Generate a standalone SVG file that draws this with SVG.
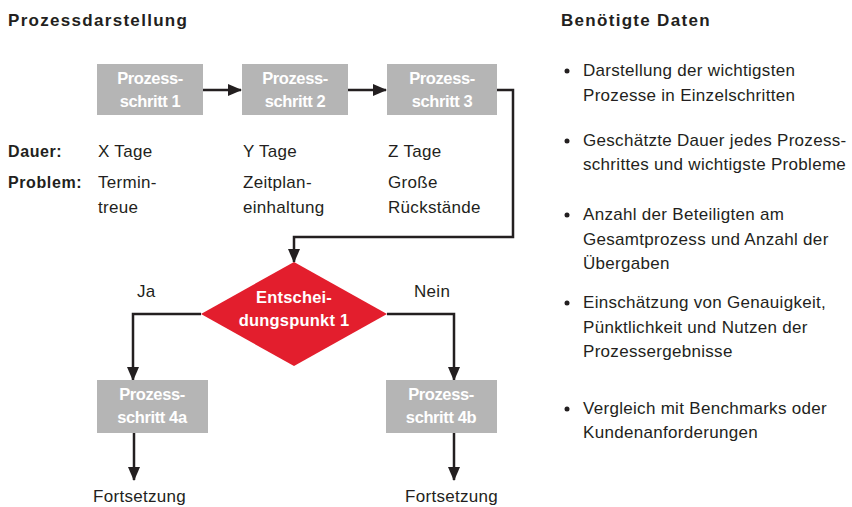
<svg xmlns="http://www.w3.org/2000/svg" width="852" height="507" viewBox="0 0 852 507">
<defs>
<style>
text{font-family:"Liberation Sans",Arial,sans-serif;font-size:17px;letter-spacing:0.3px;fill:#231f20}
.h{font-weight:bold;font-size:17px;letter-spacing:1.3px}
.b{font-weight:bold;font-size:16px;letter-spacing:0.6px}
.w{fill:#fff;font-weight:bold;font-size:16.5px;letter-spacing:-0.4px;text-anchor:middle}
.d{fill:#fff;font-weight:bold;font-size:16.5px;letter-spacing:0.2px;text-anchor:middle}
.box{fill:#b5b5b5}
.line{fill:none;stroke:#231f20;stroke-width:2.5}
</style>
<marker id="ahd" markerWidth="14" markerHeight="14" refX="13" refY="7" orient="auto" markerUnits="userSpaceOnUse" viewBox="0 0 14 14">
<path d="M0,1 L14,7 L0,13 z" fill="#231f20"/>
</marker>
</defs>
<rect width="852" height="507" fill="#fff"/>
<text class="h" x="8" y="26">Prozessdarstellung</text>
<text class="h" x="561" y="26">Benötigte Daten</text>

<g id="connectors">
<path class="line" d="M203,90 H241" marker-end="url(#ahd)"/>
<path class="line" d="M348,90 H386" marker-end="url(#ahd)"/>
<path class="line" d="M497,90 H513 V237 H294 V262" marker-end="url(#ahd)"/>
<path class="line" d="M201,314 H133 V380" marker-end="url(#ahd)"/>
<path class="line" d="M387,314 H454 V380" marker-end="url(#ahd)"/>
<path class="line" d="M134,433 V480" marker-end="url(#ahd)"/>
<path class="line" d="M454,433 V480" marker-end="url(#ahd)"/>
</g>

<g id="step1"><rect class="box" x="97" y="64" width="106" height="51"/><text class="w" x="150" y="84">Prozess-</text><text class="w" x="150" y="107">schritt 1</text></g>
<g id="step2"><rect class="box" x="242" y="64" width="106" height="51"/><text class="w" x="295" y="84">Prozess-</text><text class="w" x="295" y="107">schritt 2</text></g>
<g id="step3"><rect class="box" x="387" y="64" width="110" height="51"/><text class="w" x="442" y="84">Prozess-</text><text class="w" x="442" y="107">schritt 3</text></g>

<g id="info">
<text class="b" x="8" y="157">Dauer:</text>
<text class="b" x="8" y="188">Problem:</text>
<text x="98" y="157">X Tage</text>
<text x="243" y="157">Y Tage</text>
<text x="388" y="157">Z Tage</text>
<text x="98" y="188">Termin-</text><text x="98" y="213">treue</text>
<text x="243" y="188">Zeitplan-</text><text x="243" y="213">einhaltung</text>
<text x="388" y="188">Große</text><text x="388" y="213">Rückstände</text>
</g>

<g id="decision"><path d="M294,262 L387,314 L294,366 L201,314 z" fill="#e31e2d"/><text class="d" x="294" y="303">Entschei-</text><text class="d" x="294" y="326">dungspunkt 1</text></g>
<text x="137" y="297">Ja</text>
<text x="414" y="297">Nein</text>

<g id="step4a"><rect class="box" x="97" y="380" width="111" height="53"/><text class="w" x="152" y="400">Prozess-</text><text class="w" x="152" y="423">schritt 4a</text></g>
<g id="step4b"><rect class="box" x="386" y="380" width="111" height="53"/><text class="w" x="441" y="400">Prozess-</text><text class="w" x="441" y="423">schritt 4b</text></g>

<g id="end4a"><text x="93" y="502">Fortsetzung</text></g>
<g id="end4b"><text x="405" y="502">Fortsetzung</text></g>

<g id="bullets">
<circle cx="567" cy="71" r="2.5" fill="#231f20"/>
<text x="583" y="76">Darstellung der wichtigsten</text>
<text x="583" y="101">Prozesse in Einzelschritten</text>
<circle cx="567" cy="141" r="2.5" fill="#231f20"/>
<text x="583" y="146">Geschätzte Dauer jedes Prozess-</text>
<text x="583" y="170">schrittes und wichtigste Probleme</text>
<circle cx="567" cy="215" r="2.5" fill="#231f20"/>
<text x="583" y="220">Anzahl der Beteiligten am</text>
<text x="583" y="245">Gesamtprozess und Anzahl der</text>
<text x="583" y="269">Übergaben</text>
<circle cx="567" cy="303" r="2.5" fill="#231f20"/>
<text x="583" y="308">Einschätzung von Genauigkeit,</text>
<text x="583" y="333">Pünktlichkeit und Nutzen der</text>
<text x="583" y="357">Prozessergebnisse</text>
<circle cx="567" cy="409" r="2.5" fill="#231f20"/>
<text x="583" y="414">Vergleich mit Benchmarks oder</text>
<text x="583" y="438">Kundenanforderungen</text>
</g>
</svg>
